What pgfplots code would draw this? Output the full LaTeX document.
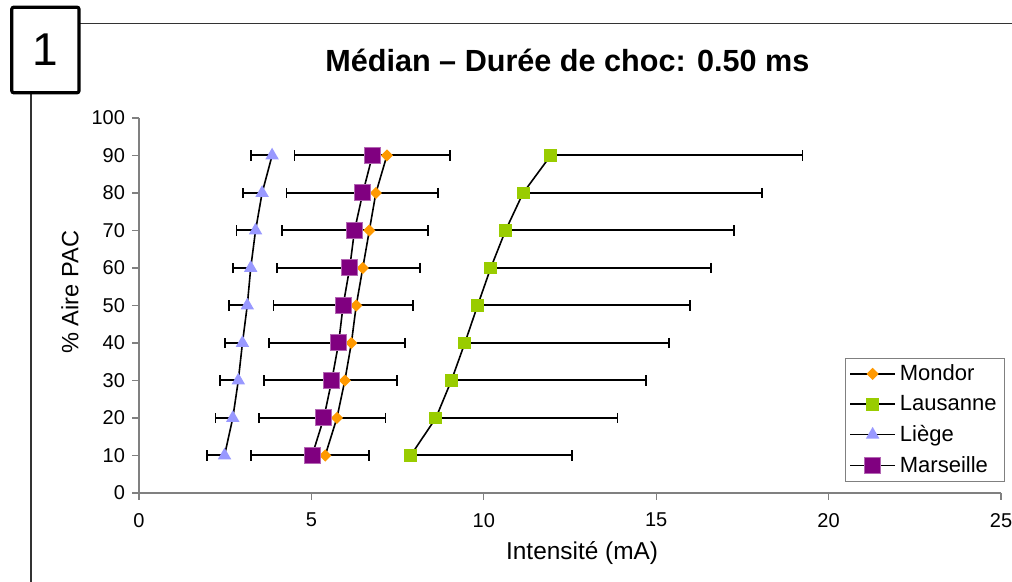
\documentclass[border=0pt]{standalone}
\usepackage{fontspec}
\setmainfont{Liberation Sans}
\usepackage{pgfplots}
\usepackage{pgfplotstable}
\pgfplotsset{compat=1.18}

\definecolor{mondor}{HTML}{FF9900}
\definecolor{lausanne}{HTML}{99CC00}
\definecolor{liege}{HTML}{9999FF}
\definecolor{marseille}{HTML}{800080}

% x = intensity (mA), y = % aire PAC, em/ep = error minus/plus
\pgfplotstableread{
x y
5.40 10
5.74 20
5.97 30
6.16 40
6.30 50
6.49 60
6.68 70
6.87 80
7.19 90
}\mondor
\pgfplotstableread{
x y ep
7.88 10 4.68
8.61 20 5.27
9.06 30 5.65
9.45 40 5.92
9.82 50 6.17
10.20 60 6.40
10.63 70 6.63
11.14 80 6.92
11.94 90 7.30
}\lausanne
\pgfplotstableread{
x y em
2.48 10 0.50
2.72 20 0.50
2.88 30 0.52
3.00 40 0.50
3.14 50 0.54
3.24 60 0.51
3.38 70 0.55
3.57 80 0.55
3.86 90 0.61
}\liege
\pgfplotstableread{
x y em ep
5.02 10 1.77 1.66
5.36 20 1.88 1.79
5.59 30 1.97 1.89
5.79 40 2.02 1.92
5.92 50 2.02 2.03
6.11 60 2.10 2.03
6.25 70 2.11 2.14
6.49 80 2.21 2.17
6.77 90 2.26 2.26
}\marseille

\begin{document}
\begin{tikzpicture}
\path[use as bounding box] (0,0) rectangle (506pt,291pt);
% page frame
\draw[black!80, line width=0.6pt] (15.5pt,244.6pt) -- (15.5pt,0pt);
\draw[black!80, line width=0.6pt] (39.5pt,279.4pt) -- (506pt,279.4pt);
\draw[black, line width=1.6pt, rounded corners=1pt, fill=white] (5.9pt,244.6pt) rectangle (39.5pt,287.4pt);
\node[font=\fontsize{23}{26}\selectfont] at (22.7pt,266pt) {1};

\begin{axis}[
    at={(69.5pt,44.5pt)}, anchor=south west,
    scale only axis, width=431pt, height=187.5pt,
    xmin=0, xmax=25, ymin=0, ymax=100,
    xtick={0,5,...,25}, ytick={0,10,...,100},
    axis lines=left,
    axis line style={gray, line width=0.6pt, -},
    tick style={gray, line width=0.6pt},
    tick align=outside, major tick length=3.5pt,
    ticklabel style={font=\fontsize{10}{12}\selectfont},
    /pgf/number format/assume math mode=true,
    xticklabel style={yshift=-3pt},
    title={Médian – Durée de choc: 0.50 ms},
    title style={font=\fontsize{15.3}{17}\selectfont\bfseries, at={(0.497,1)}, anchor=center, yshift=23pt},
    xlabel={Intensité (mA)},
    xlabel style={font=\fontsize{12.2}{14}\selectfont, at={(0.514,-0.16)}, anchor=center},
    ylabel={\% Aire PAC},
    ylabel style={font=\fontsize{11.8}{13}\selectfont, at={(-0.08,0.535)}, anchor=center},
    legend style={at={(1.0046,0.36)}, anchor=north east, draw=gray,
        font=\fontsize{11}{13}\selectfont, row sep=1.9pt,
        inner xsep=2pt, inner ysep=1pt, cells={anchor=west},
        nodes={inner xsep=2pt}},
    legend image code/.code={\draw[mark repeat=2,mark phase=2] plot coordinates {(0cm,0cm)(0.395cm,0cm)(0.79cm,0cm)};},
]
% error bars first, beneath the series
\addplot[draw=none, mark=none, forget plot,
    error bars/.cd, x dir=both, x explicit, error mark=|,
    error bar style={draw=black, line width=1pt},
    error mark options={draw=black, line width=0.9pt, mark size=2.6pt}]
    table[x=x, y=y, x error plus=ep, x error minus=em] {\marseille};
\addplot[draw=none, mark=none, forget plot,
    error bars/.cd, x dir=minus, x explicit, error mark=|,
    error bar style={draw=black, line width=1pt},
    error mark options={draw=black, line width=0.9pt, mark size=2.6pt}]
    table[x=x, y=y, x error minus=em] {\liege};
\addplot[draw=none, mark=none, forget plot,
    error bars/.cd, x dir=plus, x explicit, error mark=|,
    error bar style={draw=black, line width=1pt},
    error mark options={draw=black, line width=0.9pt, mark size=2.6pt}]
    table[x=x, y=y, x error plus=ep] {\lausanne};

\addplot[black, line width=0.8pt, mark=square*, mark size=1.75pt,
    mark options={fill=mondor, draw=mondor, rotate=45, solid}] table[x=x, y=y] {\mondor};
\addlegendentry{Mondor}
\addplot[black, line width=0.8pt, mark=square*, mark size=2.8pt,
    mark options={fill=lausanne, draw=lausanne, solid}] table[x=x, y=y] {\lausanne};
\addlegendentry{Lausanne}
\addplot[black, line width=0.8pt, mark=triangle*, mark size=3.1pt,
    mark options={fill=liege, draw=liege, solid}] table[x=x, y=y] {\liege};
\addlegendentry{Liège}
\addplot[black, line width=0.8pt, mark=square*, mark size=4pt,
    mark options={fill=marseille, draw=marseille!60!white, line width=0.5pt, solid}] table[x=x, y=y] {\marseille};
\addlegendentry{Marseille}
\end{axis}
\end{tikzpicture}
\end{document}
